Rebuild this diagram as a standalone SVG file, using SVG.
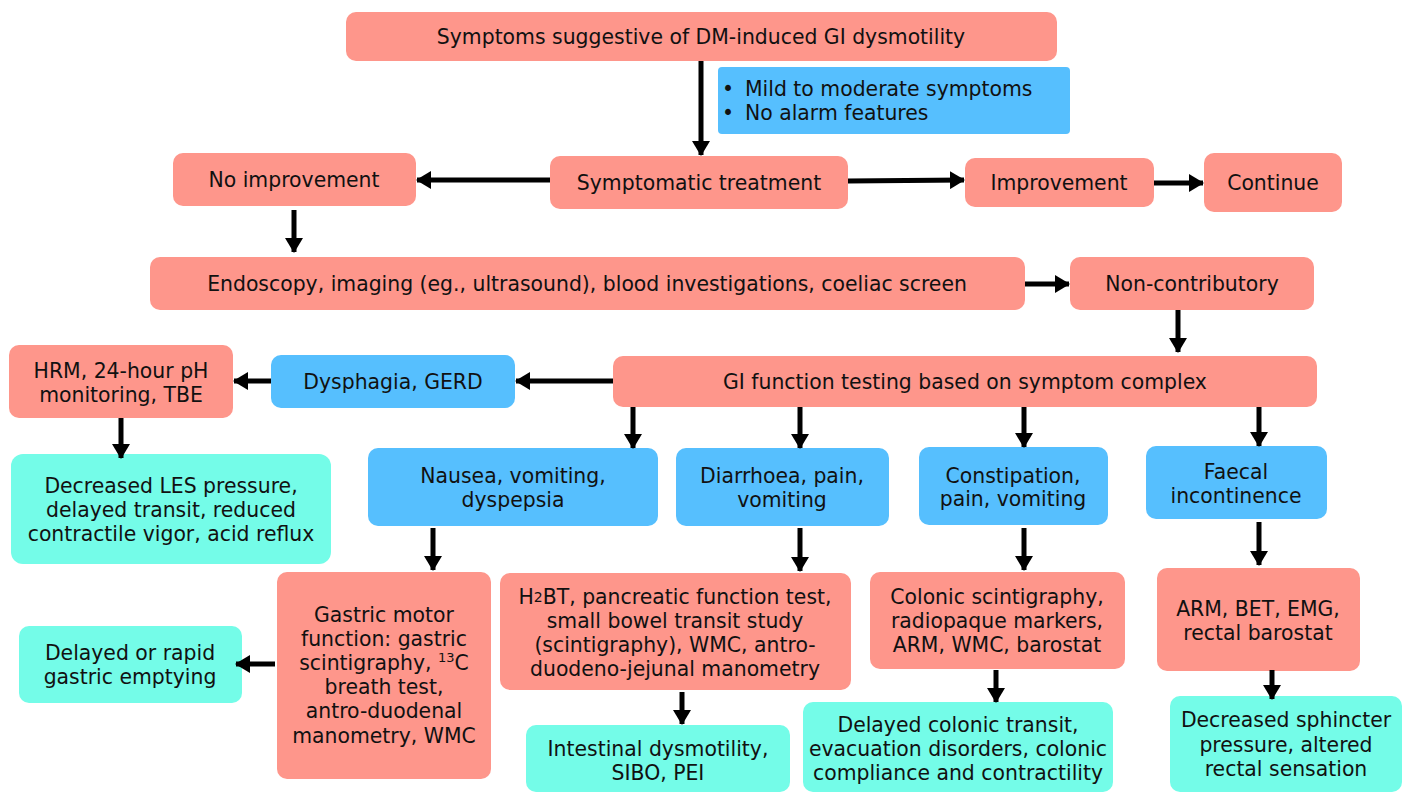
<svg xmlns="http://www.w3.org/2000/svg" width="1402" height="792" viewBox="0 0 1402 792">
<defs>
<marker id="ah" markerUnits="userSpaceOnUse" markerWidth="16" markerHeight="18" refX="14" refY="9" orient="auto">
<path d="M0,0 L15,9 L0,18 Z" fill="#000"/>
</marker>
<style>
.r{fill:#FE968B}
.b{fill:#56BFFE}
.c{fill:#74FCE8}
text{font-family:"DejaVu Sans","Liberation Sans",sans-serif;font-size:20.4px;fill:#111;text-anchor:middle;dominant-baseline:central}
.cn line{stroke:#000;stroke-width:5;marker-end:url(#ah)}
</style>
</defs>
<rect width="1402" height="792" fill="#fff"/>
<g id="n1"><rect class="r" x="346" y="12" width="711" height="49" rx="10"/><text x="701" y="37">Symptoms suggestive of DM-induced GI dysmotility</text></g>
<g id="n2"><rect class="b" x="718" y="67" width="352" height="67" rx="4"/><text x="728" y="89">•</text><text x="745" y="89" style="text-anchor:start">Mild to moderate symptoms</text><text x="728" y="113">•</text><text x="745" y="113" style="text-anchor:start">No alarm features</text></g>
<g id="n3"><rect class="r" x="550" y="156" width="298" height="53" rx="10"/><text x="699" y="183">Symptomatic treatment</text></g>
<g id="n4"><rect class="r" x="173" y="153" width="243" height="53" rx="10"/><text x="294" y="180">No improvement</text></g>
<g id="n5"><rect class="r" x="965" y="158" width="189" height="49" rx="10"/><text x="1059" y="183">Improvement</text></g>
<g id="n6"><rect class="r" x="1204" y="153" width="138" height="59" rx="10"/><text x="1273" y="183">Continue</text></g>
<g id="n7"><rect class="r" x="150" y="257" width="875" height="53" rx="10"/><text x="587" y="284">Endoscopy, imaging (eg., ultrasound), blood investigations, coeliac screen</text></g>
<g id="n8"><rect class="r" x="1070" y="257" width="244" height="53" rx="10"/><text x="1192" y="284">Non-contributory</text></g>
<g id="n9"><rect class="r" x="613" y="356" width="704" height="51" rx="10"/><text x="965" y="382">GI function testing based on symptom complex</text></g>
<g id="n10"><rect class="b" x="271" y="355" width="244" height="53" rx="10"/><text x="393" y="382">Dysphagia, GERD</text></g>
<g id="n11"><rect class="r" x="9" y="345" width="224" height="73" rx="10"/><text x="121" y="371">HRM, 24-hour pH</text><text x="121" y="395">monitoring, TBE</text></g>
<g id="n12"><rect class="c" x="11" y="454" width="320" height="110" rx="12"/><text x="171" y="486">Decreased LES pressure,</text><text x="171" y="510">delayed transit, reduced</text><text x="171" y="534">contractile vigor, acid reflux</text></g>
<g id="n13"><rect class="b" x="368" y="448" width="290" height="78" rx="10"/><text x="513" y="476">Nausea, vomiting,</text><text x="513" y="500">dyspepsia</text></g>
<g id="n14"><rect class="b" x="676" y="448" width="213" height="78" rx="10"/><text x="782" y="476">Diarrhoea, pain,</text><text x="782" y="500">vomiting</text></g>
<g id="n15"><rect class="b" x="919" y="447" width="189" height="78" rx="10"/><text x="1013" y="476">Constipation,</text><text x="1013" y="499">pain, vomiting</text></g>
<g id="n16"><rect class="b" x="1146" y="446" width="181" height="73" rx="10"/><text x="1236" y="472">Faecal</text><text x="1236" y="496">incontinence</text></g>
<g id="n17"><rect class="r" x="277" y="572" width="214" height="207" rx="10"/><text x="384" y="615">Gastric motor</text><text x="384" y="639">function: gastric</text><text x="384" y="663">scintigraphy, <tspan font-size="13" dy="-6">13</tspan><tspan dy="6">C</tspan></text><text x="384" y="687">breath test,</text><text x="384" y="711">antro-duodenal</text><text x="384" y="736">manometry, WMC</text></g>
<g id="n18"><rect class="c" x="19" y="626" width="223" height="77" rx="10"/><text x="130" y="653">Delayed or rapid</text><text x="130" y="677">gastric emptying</text></g>
<g id="n19"><rect class="r" x="500" y="573" width="351" height="117" rx="10"/><text x="675" y="597">H<tspan font-size="14">2</tspan>BT, pancreatic function test,</text><text x="675" y="621">small bowel transit study</text><text x="675" y="645">(scintigraphy), WMC, antro-</text><text x="675" y="669">duodeno-jejunal manometry</text></g>
<g id="n20"><rect class="c" x="526" y="725" width="264" height="67" rx="10"/><text x="658" y="749">Intestinal dysmotility,</text><text x="658" y="773">SIBO, PEI</text></g>
<g id="n21"><rect class="r" x="870" y="572" width="255" height="97" rx="10"/><text x="997" y="597">Colonic scintigraphy,</text><text x="997" y="621">radiopaque markers,</text><text x="997" y="645">ARM, WMC, barostat</text></g>
<g id="n22"><rect class="c" x="803" y="702" width="310" height="90" rx="10"/><text x="958" y="725">Delayed colonic transit,</text><text x="958" y="749">evacuation disorders, colonic</text><text x="958" y="773">compliance and contractility</text></g>
<g id="n23"><rect class="r" x="1157" y="568" width="203" height="103" rx="10"/><text x="1258" y="609">ARM, BET, EMG,</text><text x="1258" y="633">rectal barostat</text></g>
<g id="n24"><rect class="c" x="1170" y="696" width="232" height="96" rx="10"/><text x="1286" y="720">Decreased sphincter</text><text x="1286" y="745">pressure, altered</text><text x="1286" y="769">rectal sensation</text></g>
<g id="connectors" class="cn">
<line x1="701" y1="61" x2="701" y2="155"/>
<line x1="550" y1="180" x2="417" y2="180"/>
<line x1="848" y1="181" x2="964" y2="180"/>
<line x1="1154" y1="183" x2="1203" y2="183"/>
<line x1="294" y1="210" x2="294" y2="252"/>
<line x1="1025" y1="284" x2="1069" y2="284"/>
<line x1="1178" y1="310" x2="1178" y2="352"/>
<line x1="613" y1="381" x2="516" y2="381"/>
<line x1="271" y1="381" x2="234" y2="381"/>
<line x1="121" y1="418" x2="121" y2="458"/>
<line x1="633" y1="407" x2="633" y2="448"/>
<line x1="800" y1="407" x2="800" y2="448"/>
<line x1="1024" y1="407" x2="1024" y2="447"/>
<line x1="1259" y1="407" x2="1259" y2="446"/>
<line x1="433" y1="528" x2="433" y2="570"/>
<line x1="800" y1="528" x2="800" y2="571"/>
<line x1="1024" y1="528" x2="1024" y2="570"/>
<line x1="1259" y1="522" x2="1259" y2="565"/>
<line x1="275" y1="664" x2="236" y2="664"/>
<line x1="682" y1="692" x2="682" y2="724"/>
<line x1="996" y1="670" x2="996" y2="702"/>
<line x1="1272" y1="670" x2="1272" y2="699"/>
</g>
</svg>
